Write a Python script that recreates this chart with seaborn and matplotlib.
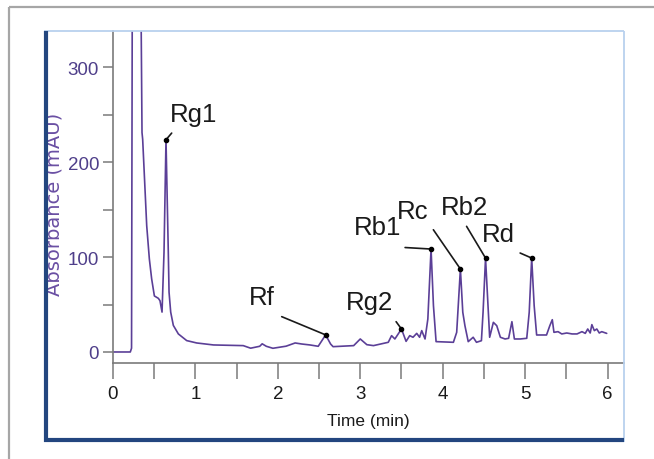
# Chromatogram of ginsenosides (UV absorbance vs. retention time)
import numpy as np
import pandas as pd
import matplotlib
matplotlib.use('Agg')
import matplotlib.pyplot as plt
from matplotlib.lines import Line2D
import seaborn as sns

# trace
time_min = [0.00, 0.21, 0.225, 0.235, 0.335, 0.352, 0.360, 0.409, 0.441, 0.469,
            0.502, 0.550, 0.570, 0.595, 0.619, 0.643, 0.671, 0.680, 0.700, 0.732,
            0.793, 0.894, 1.015, 1.22, 1.58, 1.67, 1.78, 1.81, 1.86, 1.94,
            2.10, 2.21, 2.29, 2.39, 2.49, 2.58, 2.64, 2.67, 2.92, 3.00,
            3.08, 3.16, 3.34, 3.38, 3.42, 3.50, 3.556, 3.60, 3.64, 3.685,
            3.72, 3.746, 3.786, 3.82, 3.859, 3.888, 3.92, 4.13, 4.17, 4.215,
            4.244, 4.27, 4.31, 4.37, 4.41, 4.47, 4.49, 4.52, 4.55, 4.57,
            4.615, 4.656, 4.70, 4.757, 4.80, 4.84, 4.87, 4.94, 5.02, 5.05,
            5.08, 5.11, 5.14, 5.26, 5.30, 5.33, 5.35, 5.40, 5.445, 5.505,
            5.57, 5.63, 5.69, 5.73, 5.76, 5.79, 5.81, 5.84, 5.87, 5.90,
            5.93, 5.99]
absorbance = [0.0, 0.0, 4.0, 420.0, 420.0, 231.0, 224.0, 133.0, 98.0, 77.0,
              59.0, 56.5, 54.0, 42.0, 105.0, 223.5, 105.0, 63.0, 42.0, 28.0,
              19.0, 12.0, 9.5, 7.4, 6.7, 4.0, 6.0, 8.6, 6.0, 3.9,
              6.1, 9.5, 8.4, 7.4, 6.0, 18.0, 8.4, 5.6, 6.7, 13.7,
              7.7, 6.7, 10.2, 17.2, 13.7, 24.2, 11.2, 17.2, 15.5, 19.6,
              15.5, 22.5, 13.7, 34.7, 108.4, 48.8, 10.9, 10.2, 20.7, 87.4,
              41.8, 27.7, 10.9, 15.5, 10.2, 11.9, 41.8, 98.9, 48.8, 15.5,
              31.2, 27.7, 15.5, 13.7, 14.4, 31.9, 13.7, 13.7, 14.4, 41.8,
              98.9, 48.8, 17.9, 17.9, 27.7, 34.0, 20.7, 21.4, 19.0, 20.0,
              19.0, 19.0, 21.4, 19.6, 24.2, 20.0, 28.8, 22.5, 24.2, 20.0,
              21.4, 19.6]

# labelled peaks
peak_names = ['Rg1', 'Rf', 'Rg2', 'Rb1', 'Rc', 'Rb2', 'Rd']
peak_times = [0.643, 2.58, 3.50, 3.859, 4.215, 4.52, 5.08]
label_x = [0.975, 1.81, 3.107, 3.204, 3.635, 4.27, 4.68]
label_y = [243.5, 50.5, 45.3, 124.2, 141.0, 145.3, 117.2]
leader_x = [0.712, 2.047, 3.435, 3.544, 3.887, 4.29, 4.94]
leader_y = [230.5, 37.2, 31.9, 110.0, 128.7, 132.3, 104.2]

df = pd.DataFrame({'Time (min)': time_min, 'Absorbance (mAU)': absorbance})

sns.set_theme(style='ticks')
plt.rcParams['font.family'] = ['Liberation Sans', 'DejaVu Sans']

W, H = 654, 460
fig = plt.figure(figsize=(W / 100, H / 100), dpi=100)
ax = fig.add_axes([113 / W, 1 - 364 / H, (624 - 113) / W, (364 - 32) / H])

sns.lineplot(data=df, x='Time (min)', y='Absorbance (mAU)', ax=ax,
             color='#5b3f97', linewidth=1.2, estimator=None, sort=False)

t_arr = np.array(time_min)
a_arr = np.array(absorbance)
idx = [int(np.argmin(np.abs(t_arr - t))) for t in peak_times]
ax.plot(t_arr[idx], a_arr[idx], 'o', color='black', markersize=3, zorder=5)

for i, name in enumerate(peak_names):
    ax.plot([leader_x[i], t_arr[idx[i]]], [leader_y[i], a_arr[idx[i]]],
            color='#1a1a1a', linewidth=1.2, zorder=4)
    ax.text(label_x[i], label_y[i], name, ha='center', va='baseline',
            fontsize=18.5, color='#1a1a1a')

ax.set_xlim(0, 6.20)
ax.set_ylim(-11.6, 338)
ax.set_xticks([0, 1, 2, 3, 4, 5, 6])
ax.set_xticks(np.arange(0.5, 6, 1.0), minor=True)
ax.set_yticks([0, 100, 200, 300])
ax.set_yticks([50, 150, 250], minor=True)

ax.tick_params(axis='x', which='both', direction='out', length=11.5, width=1.1,
               color='#7a7a7a', labelsize=13.5, labelcolor='#1a1a1a', pad=4.5)
ax.tick_params(axis='y', which='both', direction='out', length=7, width=1.1,
               color='#7a7a7a', labelsize=13.5, labelcolor='#4f3f8a', pad=3)

ax.set_xlabel('Time (min)', fontsize=12.5, color='#1a1a1a', labelpad=8)
ax.set_ylabel('Absorbance (mAU)', fontsize=14, color='#6a4fa3',
              family=['DejaVu Sans'])
ax.yaxis.set_label_coords(-0.097, 0.48)

sns.despine(ax=ax)
for s in ['left', 'bottom']:
    ax.spines[s].set_color('#7a7a7a')
    ax.spines[s].set_linewidth(1.2)
ax.set_facecolor('white')

# panel frame around the chart
def px_line(xs, ys, color, lw):
    fig.add_artist(Line2D([x / W for x in xs], [1 - y / H for y in ys],
                          transform=fig.transFigure, color=color,
                          linewidth=lw, solid_capstyle='butt'))

px_line([8.5, 8.5], [7.5, 460], '#a6a6a6', 1.6)
px_line([8.5, 654], [7.5, 7.5], '#a6a6a6', 1.6)
px_line([44, 624], [32, 32], '#b9d1ee', 1.3)
px_line([624, 624], [32, 443], '#b9d1ee', 1.3)
px_line([46, 46], [32, 443], '#23467f', 3.0)
px_line([44, 624], [441, 441], '#23467f', 3.0)

fig.savefig('out.png', dpi=100)
